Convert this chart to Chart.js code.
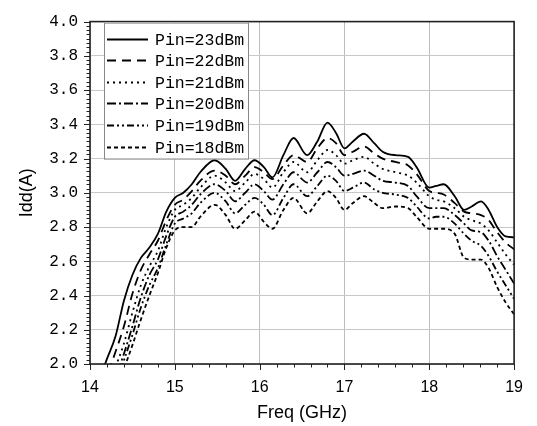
<!DOCTYPE html>
<html><head><meta charset="utf-8">
<script src="https://cdn.jsdelivr.net/npm/chart.js@4/dist/chart.umd.min.js"></script>
<style>html,body{margin:0;padding:0;background:#fff;overflow:hidden}</style>
</head><body>
<canvas id="c" width="537" height="426"></canvas>
<script>
const freq  = [14.1,14.2,14.3,14.4,14.5,14.6,14.7,14.8,14.9,15.0,15.1,15.2,15.3,15.47,15.6,15.71,15.83,15.94,16.05,16.15,16.28,16.4,16.56,16.68,16.8,16.9,17.0,17.1,17.23,17.35,17.45,17.6,17.75,17.85,18.0,18.08,18.17,18.3,18.41,18.5,18.61,18.7,18.8,18.9,19.0];
const pin23 = [1.89,2.03,2.16,2.37,2.52,2.62,2.68,2.76,2.89,2.97,3.00,3.05,3.12,3.19,3.14,3.07,3.14,3.19,3.15,3.09,3.22,3.32,3.22,3.30,3.41,3.35,3.26,3.30,3.345,3.29,3.24,3.22,3.21,3.15,3.03,3.04,3.05,2.98,2.90,2.92,2.95,2.90,2.80,2.745,2.74];
const pin22 = [1.79,1.93,2.07,2.22,2.41,2.55,2.64,2.72,2.84,2.93,2.96,3.01,3.07,3.13,3.10,3.05,3.10,3.15,3.12,3.08,3.16,3.22,3.18,3.26,3.32,3.29,3.22,3.24,3.27,3.23,3.20,3.18,3.16,3.11,3.01,3.00,2.99,2.94,2.89,2.88,2.87,2.84,2.77,2.71,2.67];
const pin21 = [1.72,1.84,1.98,2.12,2.30,2.46,2.57,2.66,2.80,2.90,2.93,2.97,3.03,3.10,3.06,3.01,3.06,3.11,3.08,3.03,3.12,3.18,3.12,3.19,3.25,3.22,3.17,3.19,3.21,3.17,3.14,3.12,3.10,3.06,2.98,2.96,2.95,2.91,2.86,2.84,2.82,2.78,2.71,2.64,2.58];
const pin20 = [1.68,1.78,1.92,2.06,2.22,2.39,2.52,2.61,2.75,2.86,2.89,2.93,2.99,3.05,3.01,2.95,3.00,3.05,3.01,2.96,3.05,3.12,3.06,3.12,3.18,3.15,3.10,3.11,3.13,3.10,3.07,3.06,3.04,2.98,2.91,2.91,2.91,2.87,2.82,2.78,2.77,2.72,2.63,2.55,2.47];
const pin19 = [1.64,1.74,1.87,2.02,2.17,2.33,2.46,2.56,2.70,2.82,2.85,2.88,2.94,3.00,2.95,2.88,2.93,2.97,2.93,2.87,2.97,3.05,2.98,3.04,3.10,3.07,3.01,3.03,3.06,3.02,3.00,2.99,2.97,2.92,2.85,2.86,2.86,2.82,2.76,2.72,2.69,2.63,2.54,2.46,2.38];
const pin18 = [1.60,1.70,1.82,1.97,2.11,2.26,2.40,2.53,2.68,2.78,2.80,2.80,2.86,2.93,2.87,2.79,2.84,2.89,2.83,2.79,2.90,2.97,2.88,2.95,3.01,2.97,2.90,2.94,2.98,2.94,2.91,2.92,2.91,2.86,2.79,2.79,2.79,2.76,2.62,2.61,2.61,2.56,2.45,2.36,2.29];
const seriesLabels = ['Pin=23dBm','Pin=22dBm','Pin=21dBm','Pin=20dBm','Pin=19dBm','Pin=18dBm'];
const seriesValues = [pin23,pin22,pin21,pin20,pin19,pin18];
const dashes = [[],[9,6],[2,4],[9,3,2,3],[7,3,2,3,2,3],[4,3]];

const datasets = seriesValues.map((vals,i)=>({
  label: seriesLabels[i],
  data: freq.map((f,j)=>({x:f,y:vals[j]})),
  borderColor:'#000', backgroundColor:'#000',
  borderWidth:1.8, borderDash:dashes[i],
  pointRadius:0, cubicInterpolationMode:'monotone', fill:false
}));

const minorTicks = {
  id:'minorTicks',
  afterDraw(chart){
    const ctx=chart.ctx, a=chart.chartArea, xs=chart.scales.x, ys=chart.scales.y;
    ctx.save();
    ctx.strokeStyle='#222'; ctx.lineWidth=1;
    ctx.beginPath();
    for(let k=0;k<=25;k++){
      const v=14+k*0.2, px=Math.round(xs.getPixelForValue(v))+0.5;
      const len=(k%5===0)?6:3.5;
      ctx.moveTo(px,a.bottom); ctx.lineTo(px,a.bottom+len);
    }
    for(let k=0;k<=80;k++){
      const v=2+k*0.025, py=Math.round(ys.getPixelForValue(v))+0.5;
      const len=(k%8===0)?6:3.5;
      ctx.moveTo(a.left,py); ctx.lineTo(a.left-len,py);
    }
    ctx.stroke();
    ctx.lineWidth=1.6; ctx.strokeStyle='#222';
    ctx.strokeRect(a.left,a.top,a.right-a.left,a.bottom-a.top);
    // legend
    const lx=a.left+14, ly=a.top+1, lw=144, lh=136;
    ctx.fillStyle='#fff'; ctx.fillRect(lx,ly,lw,lh);
    ctx.lineWidth=1; ctx.strokeStyle='#888';
    ctx.strokeRect(lx+0.5,ly+0.5,lw,lh);
    ctx.font='16.5px "Liberation Mono"'; ctx.fillStyle='#000'; ctx.textBaseline='middle';
    chart.data.datasets.forEach((ds,i)=>{
      const y=Math.round(ly+16+i*21.6)+0.5;
      ctx.setLineDash(ds.borderDash); ctx.lineWidth=1.8; ctx.strokeStyle='#000';
      ctx.beginPath(); ctx.moveTo(lx+3,y); ctx.lineTo(lx+44,y); ctx.stroke();
      ctx.setLineDash([]);
      ctx.fillText(ds.label,lx+51,y+1);
    });
    ctx.restore();
  }
};

new Chart(document.getElementById('c'),{
  type:'line',
  data:{datasets},
  options:{
    responsive:false, animation:false,
    layout:{padding:{top:14,right:13,left:0,bottom:0}},
    plugins:{legend:{display:false},tooltip:{enabled:false}},
    scales:{
      x:{type:'linear',min:14,max:19,
        ticks:{stepSize:1,color:'#000',font:{family:'Liberation Sans',size:16},padding:14,maxRotation:0},
        grid:{color:'#bdbdbd',lineWidth:1,drawTicks:false},
        border:{display:false},
        title:{display:true,text:'Freq (GHz)',color:'#000',font:{family:'Liberation Sans',size:18},padding:{top:0,bottom:2}},
        afterFit(s){s.height=62;}
      },
      y:{min:2,max:4,
        ticks:{stepSize:0.2,color:'#000',font:{family:'Liberation Mono',size:16},padding:12,callback:v=>v.toFixed(1)},
        grid:{color:'#c8c8c8',lineWidth:1,drawTicks:false},
        border:{display:false},
        title:{display:true,text:'Idd(A)',color:'#000',font:{family:'Liberation Sans',size:18},padding:{top:16,bottom:0}},
        afterFit(s){s.width=90;}
      }
    }
  },
  plugins:[minorTicks]
});
</script>
</body></html>
